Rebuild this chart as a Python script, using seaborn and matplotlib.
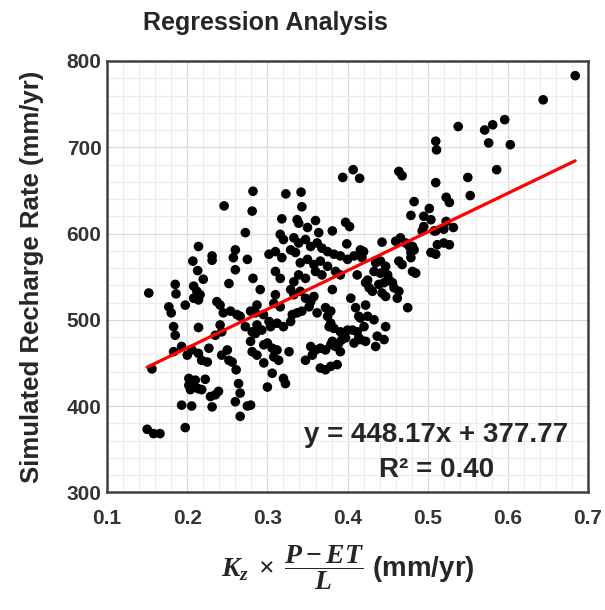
import matplotlib
matplotlib.use("Agg")
import matplotlib.pyplot as plt
import pandas as pd
import seaborn as sns
from matplotlib.ticker import MultipleLocator

# scatter values (x: Kz*(P-ET)/L, y: simulated recharge, mm/yr)
x_vals = [0.152, 0.156, 0.150, 0.158, 0.166, 0.177, 0.180, 0.185, 0.186, 0.183, 0.185, 0.183, 0.193, 0.200, 0.206, 0.1975, 0.1975, 0.193, 0.2055,
          0.208, 0.212, 0.208, 0.214, 0.216, 0.214, 0.214, 0.207, 0.213, 0.220, 0.231, 0.231, 0.214, 0.218, 0.225, 0.227,
          0.202, 0.210, 0.202, 0.208, 0.214, 0.204, 0.218, 0.2225, 0.229, 0.235, 0.239, 0.231, 0.237, 0.241, 0.241, 0.243, 0.235,
          0.252, 0.245, 0.254, 0.262, 0.266, 0.243, 0.250, 0.252, 0.256, 0.261, 0.264, 0.266, 0.260, 0.275, 0.266,
          0.246, 0.282, 0.281, 0.2725, 0.260, 0.2575, 0.260, 0.275, 0.282, 0.279, 0.285, 0.2725, 0.281, 0.279, 0.281,
          0.291, 0.310, 0.308, 0.316, 0.329, 0.333, 0.341, 0.3475, 0.354, 0.358, 0.352, 0.287, 0.295, 0.302, 0.304, 0.312, 0.287, 0.293, 0.285,
          0.320, 0.329, 0.331, 0.337, 0.343, 0.362, 0.3725, 0.375, 0.379, 0.381, 0.404, 0.410, 0.414, 0.379, 0.377, 0.383, 0.391,
          0.400, 0.406, 0.412, 0.414, 0.408, 0.287, 0.2955, 0.300, 0.306, 0.312, 0.308, 0.314, 0.2955, 0.327, 0.306, 0.320, 0.3225, 0.300, 0.279,
          0.3475, 0.356, 0.354, 0.360, 0.366, 0.3725, 0.379, 0.381, 0.385, 0.389, 0.393, 0.3975, 0.391, 0.366, 0.3725, 0.379, 0.387,
          0.323, 0.342, 0.343, 0.318, 0.337, 0.339, 0.360, 0.350, 0.381, 0.3975, 0.4025, 0.399, 0.364,
          0.316, 0.320, 0.333, 0.339, 0.3475, 0.354, 0.362, 0.368, 0.375, 0.383, 0.391, 0.400, 0.408, 0.416,
          0.302, 0.310, 0.318, 0.329, 0.335, 0.341, 0.350, 0.358, 0.366, 0.375,
          0.310, 0.316, 0.339, 0.3475, 0.360, 0.368, 0.385, 0.391, 0.412, 0.333,
          0.394, 0.407, 0.415,
          0.418, 0.420, 0.443, 0.466, 0.4725, 0.481, 0.479, 0.483, 0.504, 0.510, 0.512, 0.520, 0.527,
          0.435, 0.441, 0.4475, 0.433, 0.441, 0.450, 0.464, 0.468, 0.479, 0.481, 0.485,
          0.425, 0.427, 0.431, 0.4225, 0.439, 0.4455, 0.452, 0.456, 0.458, 0.464, 0.462,
          0.443, 0.4475, 0.475, 0.4225, 0.416, 0.425, 0.433, 0.4205, 0.4475,
          0.437, 0.4455, 0.435, 0.416, 0.4225, 0.460, 0.495, 0.493, 0.510,
          0.684, 0.644, 0.596, 0.581, 0.571, 0.576, 0.603, 0.538, 0.510, 0.511, 0.586, 0.550, 0.553, 0.510,
          0.523, 0.527, 0.483, 0.479, 0.502, 0.495, 0.504, 0.523, 0.532, 0.508, 0.520, 0.477, 0.464, 0.468]
y_vals = [531, 443, 373, 368, 368, 515, 508, 541, 530, 492, 482, 463, 469, 459, 465, 517, 375, 401, 400,
          539, 533, 525, 523, 529, 491, 585, 568, 557, 547, 574, 569, 461, 453, 451, 467,
          432, 430, 424, 422, 420, 419, 419, 431, 411, 413, 417, 399, 521, 517, 494, 486, 482,
          542, 508, 510, 506, 504, 459, 465, 453, 451, 442, 426, 415, 405, 400, 388,
          632, 649, 626, 601, 581, 572, 558, 570, 548, 510, 508, 492, 486, 475, 463,
          535, 529, 519, 515, 535, 529, 533, 525, 521, 527, 515, 517, 506, 498, 492, 496, 494, 488, 484,
          492, 498, 506, 508, 510, 508, 514, 504, 510, 535, 525, 514, 504, 496, 492, 490, 486,
          488, 488, 486, 479, 473, 459, 471, 473, 467, 465, 457, 453, 450, 463, 438, 432, 426, 422, 401,
          453, 459, 469, 465, 467, 465, 471, 475, 469, 473, 477, 479, 463, 444, 442, 446, 448,
          646, 648, 631, 617, 616, 612, 615, 607, 603, 613, 608, 588, 601,
          599, 593, 595, 589, 593, 585, 589, 583, 579, 576, 574, 570, 574, 581,
          576, 579, 572, 581, 578, 566, 570, 564, 568, 562,
          556, 548, 552, 548, 556, 552, 556, 552, 552, 544,
          665, 674, 664,
          572, 579, 590, 595, 589, 585, 578, 581, 578, 576, 587, 589, 587,
          566, 568, 562, 556, 554, 552, 568, 564, 572, 556, 554,
          546, 537, 533, 543, 541, 543, 546, 543, 537, 533, 525,
          531, 527, 514, 517, 502, 504, 500, 492, 492,
          481, 477, 469, 477, 475, 591, 608, 603, 603,
          783, 755, 732, 726, 720, 705, 703, 724, 707, 697, 674, 665, 644, 659,
          642, 636, 637, 621, 629, 620, 616, 614, 607, 603, 605, 585, 672, 667]

slope = 448.17
intercept = 377.77
r_squared = 0.40

x_ticks = [0.1, 0.2, 0.3, 0.4, 0.5, 0.6, 0.7]
y_ticks = [300, 400, 500, 600, 700, 800]

df = pd.DataFrame({"x": x_vals, "y": y_vals})
fit_x = [min(x_vals), max(x_vals)]
fit = pd.DataFrame({"x": fit_x, "y": [slope * v + intercept for v in fit_x]})

sns.set_style("white")
plt.rcParams["font.family"] = ["Liberation Sans", "DejaVu Sans"]
plt.rcParams["font.weight"] = "bold"
plt.rcParams["mathtext.fontset"] = "custom"
plt.rcParams["mathtext.it"] = "Liberation Serif:italic:bold"
plt.rcParams["mathtext.rm"] = "Liberation Serif:bold"
plt.rcParams["mathtext.bf"] = "Liberation Serif:bold"

fig = plt.figure(figsize=(6.05, 6.1), dpi=100)
ax = fig.add_axes([0.177, 0.193, 0.795, 0.707])

ax.xaxis.set_minor_locator(MultipleLocator(0.02))
ax.yaxis.set_minor_locator(MultipleLocator(20))
ax.grid(which="major", color="#d9d9d9", lw=0.9)
ax.grid(which="minor", color="#ececec", lw=0.8)
ax.set_axisbelow(True)

sns.scatterplot(data=df, x="x", y="y", color="black", s=48, edgecolor="none", ax=ax, zorder=3)
sns.lineplot(data=fit, x="x", y="y", color="red", lw=2.3, ax=ax, zorder=4)

ax.set_xlim(0.1, 0.7)
ax.set_ylim(300, 800)
ax.set_xticks(x_ticks)
ax.set_yticks(y_ticks)
ax.set_xticklabels([f"{t:.1f}" for t in x_ticks], fontsize=15, fontweight="bold", color="#333333")
ax.set_yticklabels([str(t) for t in y_ticks], fontsize=15, fontweight="bold", color="#333333")
ax.tick_params(which="both", length=0)
ax.tick_params(axis="x", pad=12)
ax.tick_params(axis="y", pad=4)

for s in ax.spines.values():
    s.set_color("#404040")
    s.set_linewidth(1.8)

ax.set_xlabel(r"$K_z\;\times\;\dfrac{P - ET}{L}$ (mm/yr)", fontsize=20, fontweight="bold", labelpad=11)
ax.set_ylabel("Simulated Recharge Rate (mm/yr)", fontsize=18.5, fontweight="bold", labelpad=16)

ax.text(0.511, 366, f"y = {slope:.2f}x + {intercept:.2f}", fontsize=20, fontweight="bold",
        ha="center", va="center", color="#262626")
ax.text(0.511, 326, f"R² = {r_squared:.2f}", fontsize=20, fontweight="bold",
        ha="center", va="center", color="#262626")

fig.text(0.438, 0.962, "Regression Analysis", fontsize=18, fontweight="bold", ha="center", va="center")

fig.savefig("out.png", dpi=100)
